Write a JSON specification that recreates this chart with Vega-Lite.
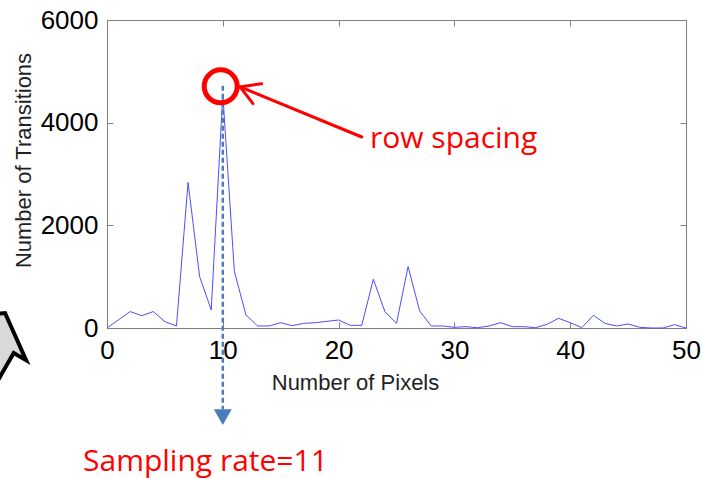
{
  "$schema": "https://vega.github.io/schema/vega-lite/v6.json",
  "autosize": {"type": "none"},
  "padding": {"left": 107, "top": 20, "right": 16, "bottom": 151},
  "width": 579,
  "height": 308,
  "background": "white",
  "config": {
    "view": {"stroke": null},
    "axis": {
      "domainColor": "#808080",
      "tickColor": "#808080",
      "tickSize": -6,
      "grid": false,
      "format": "d",
      "labelFont": "Liberation Sans",
      "labelFontSize": 26,
      "labelColor": "#000000",
      "labelOverlap": false,
      "labelFlush": false,
      "titleFont": "Liberation Sans",
      "titleFontSize": 22,
      "titleFontWeight": "normal",
      "titleColor": "#222222"
    }
  },
  "datasets": {
    "series": [
      {"pixels": 0, "transitions": 0},
      {"pixels": 1, "transitions": 160},
      {"pixels": 2, "transitions": 320},
      {"pixels": 3, "transitions": 240},
      {"pixels": 4, "transitions": 320},
      {"pixels": 5, "transitions": 124},
      {"pixels": 6, "transitions": 40},
      {"pixels": 7, "transitions": 2836},
      {"pixels": 8, "transitions": 1000},
      {"pixels": 9, "transitions": 351},
      {"pixels": 10, "transitions": 4550},
      {"pixels": 11, "transitions": 1100},
      {"pixels": 12, "transitions": 254},
      {"pixels": 13, "transitions": 40},
      {"pixels": 14, "transitions": 40},
      {"pixels": 15, "transitions": 104},
      {"pixels": 16, "transitions": 45},
      {"pixels": 17, "transitions": 91},
      {"pixels": 18, "transitions": 104},
      {"pixels": 19, "transitions": 130},
      {"pixels": 20, "transitions": 156},
      {"pixels": 21, "transitions": 52},
      {"pixels": 22, "transitions": 52},
      {"pixels": 23, "transitions": 950},
      {"pixels": 24, "transitions": 319},
      {"pixels": 25, "transitions": 91},
      {"pixels": 26, "transitions": 1196},
      {"pixels": 27, "transitions": 332},
      {"pixels": 28, "transitions": 39},
      {"pixels": 29, "transitions": 39},
      {"pixels": 30, "transitions": 13},
      {"pixels": 31, "transitions": 26},
      {"pixels": 32, "transitions": 6},
      {"pixels": 33, "transitions": 39},
      {"pixels": 34, "transitions": 104},
      {"pixels": 35, "transitions": 26},
      {"pixels": 36, "transitions": 26},
      {"pixels": 37, "transitions": 6},
      {"pixels": 38, "transitions": 72},
      {"pixels": 39, "transitions": 189},
      {"pixels": 40, "transitions": 104},
      {"pixels": 41, "transitions": 6},
      {"pixels": 42, "transitions": 247},
      {"pixels": 43, "transitions": 91},
      {"pixels": 44, "transitions": 39},
      {"pixels": 45, "transitions": 78},
      {"pixels": 46, "transitions": 13},
      {"pixels": 47, "transitions": 0},
      {"pixels": 48, "transitions": 0},
      {"pixels": 49, "transitions": 65},
      {"pixels": 50, "transitions": 0}
    ]
  },
  "resolve": {"axis": {"x": "independent", "y": "independent"}},
  "layer": [
    {
      "data": {"name": "series"},
      "mark": {"type": "line", "color": "#4d4dff", "strokeWidth": 1},
      "encoding": {
        "x": {"field": "pixels", "type": "quantitative",
              "scale": {"domain": [0, 50], "nice": false, "zero": false},
              "axis": {"orient": "bottom", "values": [0, 10, 20, 30, 40, 50], "labelPadding": 15, "format": "d",
                       "title": "Number of Pixels", "titleX": 248, "titleY": 54, "titleBaseline": "middle", "titleAnchor": null}},
        "y": {"field": "transitions", "type": "quantitative",
              "scale": {"domain": [0, 6000], "nice": false, "zero": false},
              "axis": {"orient": "left", "values": [0, 2000, 4000, 6000], "labelPadding": 15, "format": "d",
                       "title": "Number of Transitions", "titleX": -84, "titleY": 140, "titleAngle": -90, "titleBaseline": "middle", "titleAlign": "center"}}
      }
    },
    {
      "data": {"name": "series"},
      "mark": {"type": "line", "strokeOpacity": 0},
      "encoding": {
        "x": {"field": "pixels", "type": "quantitative",
              "scale": {"domain": [0, 50], "nice": false, "zero": false},
              "axis": {"orient": "top", "values": [0, 10, 20, 30, 40, 50], "labels": false, "title": null}},
        "y": {"field": "transitions", "type": "quantitative",
              "scale": {"domain": [0, 6000], "nice": false, "zero": false},
              "axis": {"orient": "right", "values": [0, 2000, 4000, 6000], "labels": false, "title": null}}
      }
    },
    {
      "data": {"values": [{"x": 10, "y": 4721, "y2": -1581}]},
      "mark": {"type": "rule", "color": "#4a7ebb", "strokeWidth": 2.5, "strokeDash": [5, 3]},
      "encoding": {
        "x": {"field": "x", "type": "quantitative", "scale": {"domain": [0, 50], "nice": false, "zero": false}, "axis": null},
        "y": {"field": "y", "type": "quantitative", "scale": {"domain": [0, 6000], "nice": false, "zero": false}, "axis": null},
        "y2": {"field": "y2"}
      }
    },
    {
      "data": {"values": [{"x": 10, "y": -1736}]},
      "mark": {"type": "point", "shape": "triangle-down", "size": 324, "filled": true, "color": "#4a7ebb", "opacity": 1},
      "encoding": {
        "x": {"field": "x", "type": "quantitative", "scale": {"domain": [0, 50], "nice": false, "zero": false}, "axis": null},
        "y": {"field": "y", "type": "quantitative", "scale": {"domain": [0, 6000], "nice": false, "zero": false}, "axis": null}
      }
    },
    {
      "data": {"values": [{"x": 9.82, "y": 4708}]},
      "mark": {"type": "point", "shape": "circle", "size": 1089, "filled": false, "stroke": "#ff0000", "strokeWidth": 5, "opacity": 1},
      "encoding": {
        "x": {"field": "x", "type": "quantitative", "scale": {"domain": [0, 50], "nice": false, "zero": false}, "axis": null},
        "y": {"field": "y", "type": "quantitative", "scale": {"domain": [0, 6000], "nice": false, "zero": false}, "axis": null}
      }
    },
    {
      "data": {"values": [
        {"x": 22.0, "y": 3721, "x2": 11.49, "y2": 4696},
        {"x": 11.49, "y": 4696, "x2": 13.36, "y2": 4760},
        {"x": 11.49, "y": 4696, "x2": 12.61, "y2": 4370}
      ]},
      "mark": {"type": "rule", "color": "#ff0000", "strokeWidth": 3, "strokeCap": "round"},
      "encoding": {
        "x": {"field": "x", "type": "quantitative", "scale": {"domain": [0, 50], "nice": false, "zero": false}, "axis": null},
        "y": {"field": "y", "type": "quantitative", "scale": {"domain": [0, 6000], "nice": false, "zero": false}, "axis": null},
        "x2": {"field": "x2"},
        "y2": {"field": "y2"}
      }
    },
    {
      "data": {"values": [
        {"x": 22.71, "y": 3512, "label": "row spacing"},
        {"x": -2.07, "y": -2790, "label": "Sampling rate=11"}
      ]},
      "mark": {"type": "text", "font": "Open Sans", "fontSize": 30, "color": "#ff0000", "align": "left", "baseline": "alphabetic"},
      "encoding": {
        "x": {"field": "x", "type": "quantitative", "scale": {"domain": [0, 50], "nice": false, "zero": false}, "axis": null},
        "y": {"field": "y", "type": "quantitative", "scale": {"domain": [0, 6000], "nice": false, "zero": false}, "axis": null},
        "text": {"field": "label"}
      }
    },
    {
      "data": {"values": [{"x": -11.18, "y": -636}]},
      "mark": {"type": "point", "shape": "M0,-1L0.76,-0.45L0.5,-0.45L0.5,1L-0.5,1L-0.5,-0.45L-0.76,-0.45Z", "size": 12100, "angle": 30, "filled": true, "fill": "#d9d9d9", "stroke": "#000000", "strokeWidth": 4, "opacity": 1},
      "encoding": {
        "x": {"field": "x", "type": "quantitative", "scale": {"domain": [0, 50], "nice": false, "zero": false}, "axis": null},
        "y": {"field": "y", "type": "quantitative", "scale": {"domain": [0, 6000], "nice": false, "zero": false}, "axis": null}
      }
    }
  ]
}
